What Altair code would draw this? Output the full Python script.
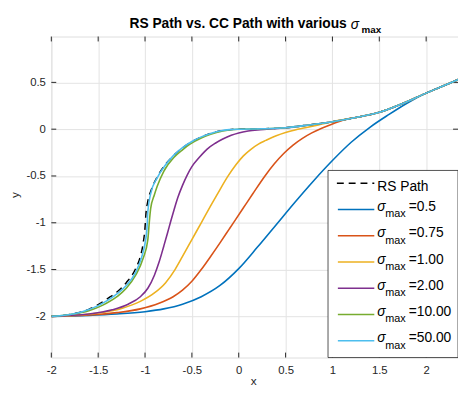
import altair as alt
import pandas as pd

# ---------------- data ----------------
x_ticks = [-2, -1.5, -1, -0.5, 0, 0.5, 1, 1.5, 2]
y_ticks = [-2, -1.5, -1, -0.5, 0, 0.5]

rs_x = [-2.0, -1.8, -1.6, -1.5, -1.4, -1.3, -1.2, -1.1, -1.05, -1.02, -1.0, -0.99, -0.97,
        -0.93, -0.87, -0.8, -0.7, -0.6, -0.5, -0.4, -0.3, -0.2, -0.1, 0.0, 0.25, 0.5,
        0.75, 1.0, 1.25, 1.5, 1.75, 2.0, 2.25, 2.35]
rs_y = [-2.0, -1.98, -1.925, -1.875, -1.81, -1.74, -1.64, -1.49, -1.36, -1.22, -1.05, -0.9,
        -0.77, -0.64, -0.51, -0.4, -0.286, -0.2, -0.134, -0.083, -0.046, -0.02, -0.005,
        0.0, 0.004, 0.015, 0.045, 0.08, 0.125, 0.18, 0.275, 0.385, 0.49, 0.535]

s05_x = [-2.0, -1.6, -1.3, -1.0, -0.8, -0.6, -0.4, -0.2, 0.0, 0.2, 0.4, 0.6, 0.8, 1.0,
         1.2, 1.4, 1.6, 1.8, 2.0, 2.2, 2.35]
s05_y = [-2.0, -1.99, -1.975, -1.95, -1.92, -1.87, -1.79, -1.67, -1.49, -1.26, -1.02,
         -0.78, -0.55, -0.335, -0.14, 0.02, 0.155, 0.28, 0.385, 0.47, 0.535]

s075_x = [-2.0, -1.6, -1.3, -1.05, -0.85, -0.7, -0.6, -0.5, -0.4, -0.3, -0.2, -0.1, -0.05,
          0.05, 0.15, 0.28, 0.38, 0.48, 0.58, 0.68, 0.78, 0.88, 0.98, 1.08, 1.18, 1.25,
          1.5, 1.75, 2.0, 2.25, 2.35]
s075_y = [-2.0, -1.985, -1.96, -1.92, -1.86, -1.79, -1.72, -1.625, -1.5, -1.36, -1.215,
          -1.065, -0.99, -0.84, -0.69, -0.5, -0.37, -0.26, -0.17, -0.098, -0.04, 0.008,
          0.048, 0.084, 0.115, 0.125, 0.18, 0.275, 0.385, 0.49, 0.535]

s1_x = [-2.0, -1.8, -1.5, -1.25, -1.05, -0.9, -0.78, -0.68, -0.6, -0.5, -0.4, -0.3, -0.2,
        -0.12, -0.03, 0.05, 0.13, 0.21, 0.29, 0.4, 0.5, 0.6, 0.71, 0.85, 1.0, 1.25, 1.5,
        1.75, 2.0, 2.25, 2.35]
s1_y = [-2.0, -1.993, -1.965, -1.915, -1.84, -1.75, -1.64, -1.5, -1.36, -1.18, -1.0, -0.82,
        -0.645, -0.51, -0.38, -0.285, -0.215, -0.16, -0.12, -0.07, -0.035, -0.008, 0.015,
        0.045, 0.08, 0.125, 0.18, 0.275, 0.385, 0.49, 0.535]

s2_x = [-2.0, -1.6, -1.35, -1.18, -1.05, -0.97, -0.9, -0.85, -0.8, -0.76, -0.73, -0.69,
        -0.65, -0.6, -0.55, -0.5, -0.42, -0.34, -0.25, -0.17, -0.08, 0.0, 0.1, 0.2, 0.3,
        0.4, 0.5, 0.75, 1.0, 1.25, 1.5, 1.75, 2.0, 2.25, 2.35]
s2_y = [-2.0, -1.975, -1.93, -1.87, -1.79, -1.7, -1.56, -1.42, -1.25, -1.11, -1.0, -0.86,
        -0.73, -0.6, -0.49, -0.4, -0.3, -0.215, -0.15, -0.105, -0.065, -0.04, -0.02,
        -0.008, 0.0, 0.008, 0.015, 0.045, 0.08, 0.125, 0.18, 0.275, 0.385, 0.49, 0.535]

s10_x = [-2.0, -1.8, -1.6, -1.45, -1.3, -1.2, -1.1, -1.02, -0.97, -0.955, -0.94, -0.9, -0.87,
         -0.8, -0.69, -0.6, -0.52, -0.4, -0.3, -0.17, 0.0, 0.25, 0.5, 0.75, 1.0, 1.25, 1.5,
         1.75, 2.0, 2.25, 2.35]
s10_y = [-2.0, -1.98, -1.94, -1.88, -1.79, -1.7, -1.56, -1.38, -1.18, -1.0, -0.85, -0.7,
         -0.61, -0.45, -0.3, -0.22, -0.16, -0.095, -0.055, -0.02, 0.0, 0.004, 0.015, 0.045,
         0.08, 0.125, 0.18, 0.275, 0.385, 0.49, 0.535]

s50_x = [-2.0, -1.8, -1.67, -1.5, -1.4, -1.3, -1.2, -1.1, -1.04, -1.0, -0.98, -0.97, -0.94,
         -0.87, -0.78, -0.7, -0.6, -0.5, -0.4, -0.3, -0.2, -0.1, 0.0, 0.25, 0.5, 0.75, 1.0,
         1.25, 1.5, 1.75, 2.0, 2.25, 2.35]
s50_y = [-2.0, -1.98, -1.95, -1.885, -1.83, -1.76, -1.67, -1.53, -1.38, -1.22, -1.07,
         -0.88, -0.69, -0.52, -0.38, -0.285, -0.198, -0.132, -0.082, -0.046, -0.02, -0.005,
         0.0, 0.004, 0.015, 0.045, 0.08, 0.125, 0.18, 0.275, 0.385, 0.49, 0.535]

sigma_labels = ["0.5", "0.75", "1.00", "2.00", "10.00", "50.00"]
sigma_series = [(s05_x, s05_y), (s075_x, s075_y), (s1_x, s1_y),
                (s2_x, s2_y), (s10_x, s10_y), (s50_x, s50_y)]
colors = ["#0072BD", "#D95319", "#EDB120", "#7E2F8E", "#77AC30", "#4DBEEE"]

title_main = "RS Path vs. CC Path with various"
rs_label = "RS Path"

# ---------------- layout ----------------
W, H = 413, 326
XDOM = [-2, 2.34]
YDOM = [-2.44, 0.99]
FONT = "Liberation Sans"
AX = "#262626"
GRID = "#e3e3e3"
DASH = [7, 5]

xs = alt.Scale(domain=XDOM, nice=False, zero=False)
ys = alt.Scale(domain=YDOM, nice=False, zero=False)
dummy = pd.DataFrame({"d": [0]})


def line_df(xv, yv):
    return pd.DataFrame({"x": xv, "y": yv, "i": list(range(len(xv)))})


layers = []

# base layer carrying the axes / grid
base = alt.Chart(line_df(rs_x, rs_y)).mark_line(opacity=0).encode(
    x=alt.X("x:Q", scale=xs, title=None,
            axis=alt.Axis(values=x_ticks, grid=True, gridColor=GRID, gridWidth=1,
                          domain=False, ticks=False, tickSize=0, labelPadding=7,
                          labelExpr="datum.value + ''", labelFont=FONT,
                          labelFontSize=11.5, labelColor=AX, labelFlush=False)),
    y=alt.Y("y:Q", scale=ys, title=None,
            axis=alt.Axis(values=y_ticks, grid=True, gridColor=GRID, gridWidth=1,
                          domain=False, ticks=False, tickSize=0, labelPadding=6,
                          labelExpr="datum.value + ''", labelFont=FONT,
                          labelFontSize=11.5, labelColor=AX, labelFlush=False)),
)
layers.append(base)

# inward tick marks on all four sides
xt = pd.DataFrame({"x": x_ticks})
yt = pd.DataFrame({"y": y_ticks})
TL = 5
for y0, y1 in [(H, H - TL), (0, TL)]:
    layers.append(alt.Chart(xt).mark_rule(color=AX, strokeWidth=1).encode(
        x=alt.X("x:Q", scale=xs, title=None), y=alt.value(y0), y2=alt.value(y1)))
for x0, x1 in [(0, TL), (W, W - TL)]:
    layers.append(alt.Chart(yt).mark_rule(color=AX, strokeWidth=1).encode(
        y=alt.Y("y:Q", scale=ys, title=None), x=alt.value(x0), x2=alt.value(x1)))

# RS path (dashed)
layers.append(alt.Chart(line_df(rs_x, rs_y)).mark_line(
    color="black", strokeWidth=1.5, strokeDash=DASH, interpolate="monotone", clip=True
).encode(x=alt.X("x:Q", scale=xs, title=None), y=alt.Y("y:Q", scale=ys, title=None),
         order="i:Q"))

# CC paths
for (sx, sy), c in zip(sigma_series, colors):
    layers.append(alt.Chart(line_df(sx, sy)).mark_line(
        color=c, strokeWidth=1.6, interpolate="monotone", clip=True
    ).encode(x=alt.X("x:Q", scale=xs, title=None), y=alt.Y("y:Q", scale=ys, title=None),
             order="i:Q"))

# ---------------- legend (drawn by hand to allow subscripts) ----------------
LX0, LY0 = 281, 136
row0, dy = 149, 26.67
lx1, lx2 = 290, 328
layers.append(alt.Chart(dummy).mark_rect(fill="white", stroke=AX, strokeWidth=0.8).encode(
    x=alt.value(LX0), x2=alt.value(W), y=alt.value(LY0), y2=alt.value(H)))
layers.append(alt.Chart(dummy).mark_rule(color="black", strokeWidth=1.5, strokeDash=DASH).encode(
    x=alt.value(lx1), x2=alt.value(lx2), y=alt.value(row0)))
layers.append(alt.Chart(dummy).mark_text(align="left", baseline="alphabetic", font=FONT,
                                         fontSize=14, color="black").encode(
    x=alt.value(331), y=alt.value(row0 + 7.5), text=alt.value(rs_label)))
for k, (lab, c) in enumerate(zip(sigma_labels, colors), start=1):
    ly = row0 + dy * k
    layers.append(alt.Chart(dummy).mark_rule(color=c, strokeWidth=1.6).encode(
        x=alt.value(lx1 + 1), x2=alt.value(lx2), y=alt.value(ly)))
    layers.append(alt.Chart(dummy).mark_text(align="left", baseline="alphabetic", font=FONT,
                                             fontSize=14, fontStyle="italic", color="black").encode(
        x=alt.value(331), y=alt.value(ly + 1.6), text=alt.value("σ")))
    layers.append(alt.Chart(dummy).mark_text(align="left", baseline="alphabetic", font=FONT,
                                             fontSize=11, color="black").encode(
        x=alt.value(339), y=alt.value(ly + 8), text=alt.value("max")))
    layers.append(alt.Chart(dummy).mark_text(align="left", baseline="alphabetic", font=FONT,
                                             fontSize=14, color="black").encode(
        x=alt.value(363), y=alt.value(ly + 1.6), text=alt.value("=" + lab)))

# ---------------- title and axis titles ----------------
layers.append(alt.Chart(dummy).mark_text(align="right", baseline="alphabetic", font=FONT,
                                         fontSize=14, fontWeight="bold", color="black").encode(
    x=alt.value(300), y=alt.value(-8.5), text=alt.value(title_main)))
layers.append(alt.Chart(dummy).mark_text(align="left", baseline="alphabetic", font=FONT,
                                         fontSize=14, fontStyle="italic", color="black").encode(
    x=alt.value(304), y=alt.value(-8), text=alt.value("σ")))
layers.append(alt.Chart(dummy).mark_text(align="left", baseline="alphabetic", font=FONT,
                                         fontSize=10, fontWeight="bold", color="black").encode(
    x=alt.value(315), y=alt.value(-4), text=alt.value("max")))
layers.append(alt.Chart(dummy).mark_text(align="center", baseline="alphabetic", font=FONT,
                                         fontSize=12, color=AX).encode(
    x=alt.value(W / 2 - 1), y=alt.value(354), text=alt.value("x")))
layers.append(alt.Chart(dummy).mark_text(align="center", baseline="middle", font=FONT,
                                         fontSize=12, color=AX, angle=270).encode(
    x=alt.value(-37), y=alt.value(161), text=alt.value("y")))

chart = alt.layer(*layers).properties(
    width=W, height=H,
    autosize=alt.AutoSizeParams(type="none"),
    padding={"left": 44, "top": 26, "right": 0, "bottom": 30},
).configure_view(stroke=AX, strokeWidth=1).configure(background="white")

chart.save("out.html", embed_options={"renderer": "svg", "actions": False})
